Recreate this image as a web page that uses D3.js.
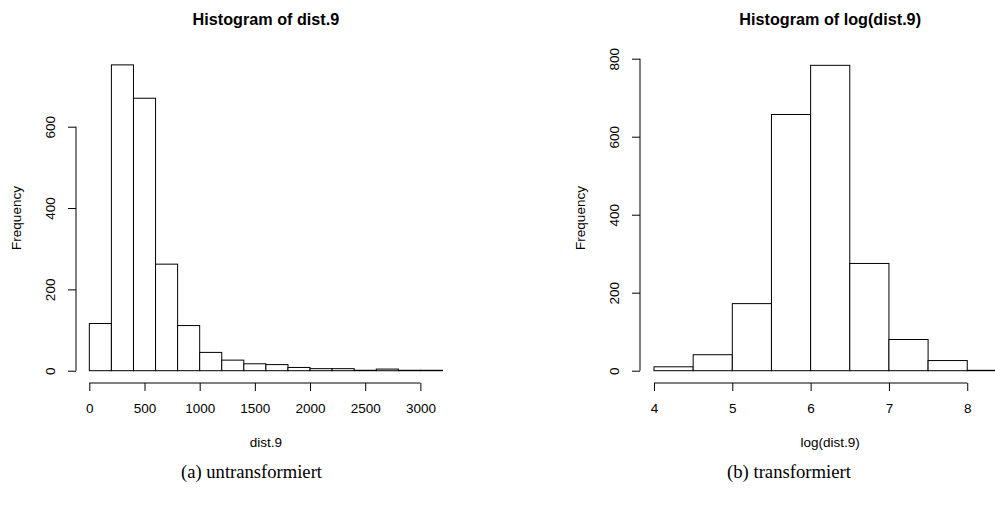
<!DOCTYPE html>
<html>
<head>
<meta charset="utf-8">
<script src="https://cdn.jsdelivr.net/npm/d3@7/dist/d3.min.js"></script>
<style>
  html, body { margin: 0; padding: 0; background: #fff; }
  svg { display: block; }
  text { font-family: "Liberation Sans", Arial, sans-serif; fill: #000; }
</style>
</head>
<body>
<svg id="chart" width="995" height="512"></svg>
<script>
// ---- Data ----
// Left histogram: dist.9, bin width 200
const leftBinStarts = [0,200,400,600,800,1000,1200,1400,1600,1800,2000,2200,2400,2600,2800,3000];
const leftBinWidth = 200;
const leftCounts = [116,752,670,262,111,45,26,17,15,8,5,5,1,4,1,1];
const leftXTicks = [0,500,1000,1500,2000,2500,3000];
const leftYTicks = [0,200,400,600];

// Right histogram: log(dist.9), bin width 0.5
const rightBinStarts = [4,4.5,5,5.5,6,6.5,7,7.5,8];
const rightBinWidth = 0.5;
const rightCounts = [10,41,172,657,783,275,80,26,1];
const rightXTicks = [4,5,6,7,8];
const rightYTicks = [0,200,400,600,800];

const titles = ["Histogram of dist.9", "Histogram of log(dist.9)"];
const xLabels = ["dist.9", "log(dist.9)"];
const yLabel = "Frequency";
const captions = ["(a) untransformiert", "(b) transformiert"];

// ---- Drawing ----
const svg = d3.select("#chart");

function drawHist(cfg) {
  const g = svg.append("g");
  const x = d3.scaleLinear().domain(cfg.xDomain).range(cfg.xRange);
  const y = d3.scaleLinear().domain(cfg.yDomain).range(cfg.yRange);
  const bins = cfg.starts.map((s, i) => ({x0: s, x1: s + cfg.width, n: cfg.counts[i]}));

  // bars
  g.selectAll("rect.bar").data(bins).enter().append("rect")
    .attr("class", "bar")
    .attr("x", d => x(d.x0))
    .attr("y", d => y(d.n))
    .attr("width", d => x(d.x1) - x(d.x0))
    .attr("height", d => y(0) - y(d.n))
    .attr("fill", "#fff")
    .attr("stroke", "#000")
    .attr("stroke-width", 1);

  // x axis (R style: line spans first..last tick)
  const xAxisG = g.append("g").attr("transform", `translate(0,${cfg.xAxisY})`)
    .call(d3.axisBottom(x).tickValues(cfg.xTicks).tickSize(8).tickSizeOuter(0).tickFormat(d3.format("d")));
  xAxisG.select(".domain").remove();
  xAxisG.append("line")
    .attr("x1", x(cfg.xTicks[0])).attr("x2", x(cfg.xTicks[cfg.xTicks.length - 1]))
    .attr("stroke", "#000");
  xAxisG.selectAll(".tick line").attr("stroke", "#000");
  xAxisG.selectAll(".tick text")
    .attr("y", 30.3).attr("dy", null)
    .style("font-size", "13.5px").style("font-family", "'Liberation Sans', Arial, sans-serif");

  // y axis
  const yAxisG = g.append("g").attr("transform", `translate(${cfg.yAxisX},0)`)
    .call(d3.axisLeft(y).tickValues(cfg.yTicks).tickSize(8).tickSizeOuter(0).tickFormat(d3.format("d")));
  yAxisG.select(".domain").remove();
  yAxisG.append("line")
    .attr("y1", y(cfg.yTicks[0])).attr("y2", y(cfg.yTicks[cfg.yTicks.length - 1]))
    .attr("stroke", "#000");
  yAxisG.selectAll(".tick line").attr("stroke", "#000");
  yAxisG.selectAll(".tick text")
    .attr("x", null).attr("y", null).attr("dy", null).attr("dx", null)
    .attr("text-anchor", "middle")
    .attr("transform", "translate(-21,0) rotate(-90)")
    .style("font-size", "13.5px").style("font-family", "'Liberation Sans', Arial, sans-serif");

  // title
  const cx = (cfg.xRange[0] + cfg.xRange[1]) / 2;
  g.append("text").attr("x", cx).attr("y", 25)
    .attr("text-anchor", "middle")
    .style("font-size", "16.2px").style("font-weight", "bold")
    .text(cfg.title);

  // x label
  g.append("text").attr("x", cx).attr("y", 446.5)
    .attr("text-anchor", "middle").style("font-size", "13.5px")
    .text(cfg.xLabel);

  // y label
  const cy = (cfg.yPlot[0] + cfg.yPlot[1]) / 2;
  g.append("text")
    .attr("transform", `translate(${cfg.yAxisX - 55},${cy}) rotate(-90)`)
    .attr("text-anchor", "middle").style("font-size", "13.5px")
    .text(yLabel);

  // caption
  g.append("text").attr("x", cfg.capX).attr("y", 478)
    .attr("text-anchor", "middle")
    .attr("textLength", cfg.capW).attr("lengthAdjust", "spacingAndGlyphs")
    .style("font-family", "'Liberation Serif', 'DejaVu Serif', serif")
    .style("font-size", "19px")
    .text(cfg.caption);
}

// Left: data range 0..3200 expanded 4% -> -128..3328
drawHist({
  starts: leftBinStarts, width: leftBinWidth, counts: leftCounts,
  xDomain: [-128, 3328], xRange: [75.2, 456.6],
  yDomain: [0, 600], yRange: [370.7, 126.7],
  yPlot: [53, 383],
  xTicks: leftXTicks, yTicks: leftYTicks,
  xAxisY: 383, yAxisX: 76,
  title: titles[0], xLabel: xLabels[0], caption: captions[0],
  capX: 251.5, capW: 141
});

// Right: data range 4..8.5 expanded 4% -> 3.82..8.68
drawHist({
  starts: rightBinStarts, width: rightBinWidth, counts: rightCounts,
  xDomain: [3.82, 8.68], xRange: [639.9, 1020.5],
  yDomain: [0, 800], yRange: [370.7, 58.7],
  yPlot: [53, 383],
  xTicks: rightXTicks, yTicks: rightYTicks,
  xAxisY: 383, yAxisX: 640,
  title: titles[1], xLabel: xLabels[1], caption: captions[1],
  capX: 789, capW: 124
});
</script>
</body>
</html>
